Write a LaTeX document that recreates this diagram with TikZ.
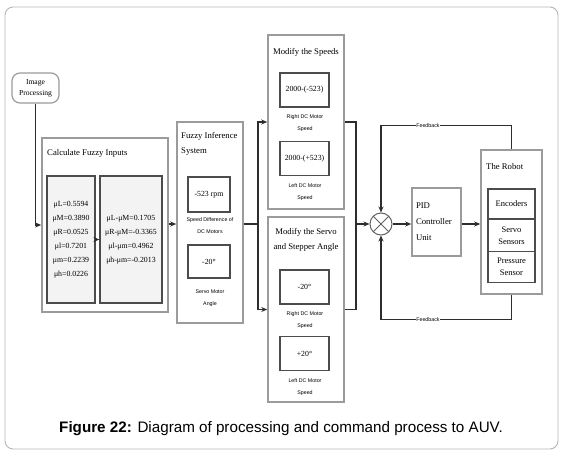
\documentclass[tikz,border=0pt]{standalone}
\usepackage{fontspec}
\setmainfont{Liberation Serif}
\setsansfont{Liberation Sans}
\usetikzlibrary{
    arrows.meta,
    positioning,
    calc
}
\definecolor{framegray}{RGB}{180,180,180}
\definecolor{boxgray}{RGB}{155,155,155}
\definecolor{linedark}{RGB}{45,45,45}
\definecolor{innerfill}{RGB}{243,243,243}

\begin{document}
\begin{tikzpicture}[x=1pt, y=-1pt,
    block/.style={draw=boxgray, line width=1.6pt, fill=white, inner sep=0pt},
    inbox/.style={draw=linedark!85, line width=1.3pt, fill=white, inner sep=0pt, font=\fontsize{7.8}{14}\selectfont},
    tag/.style={font=\sffamily\fontsize{5.3}{12}\selectfont, align=center, inner sep=0pt},
    heading/.style={font=\fontsize{8.7}{15.5}\selectfont, inner sep=0pt},
    wire/.style={draw=linedark, line width=1.3pt},
    flow/.style={wire, -{Stealth[length=6pt, width=5pt]}}
]
    \useasboundingbox (0,0) rectangle (562,455);

    % Outer frame
    \draw[framegray, line width=0.9pt, rounded corners=8pt] (5,7) rectangle (558,449);

    % Image processing input
    \node[block, line width=1.2pt, rounded corners=8pt, minimum width=47pt, minimum height=30pt, align=center, font=\fontsize{7.6}{11}\selectfont] (imgproc) at (35.5,88) {Image\\Processing};

    % Calculate fuzzy inputs
    \node[block, minimum width=126pt, minimum height=174pt] (calc) at (105,225) {};
    \node[heading, anchor=west] (calctitle) at (47,153) {Calculate Fuzzy Inputs};
    \node[inbox, fill=innerfill, minimum width=48pt, minimum height=127pt, align=center] (muleft) at (71,239.5)
        {μL=0.5594\\μM=0.3890\\μR=0.0525\\μl=0.7201\\μm=0.2239\\μh=0.0226};
    \node[inbox, fill=innerfill, minimum width=62pt, minimum height=127pt, align=center] (muright) at (131,239.5)
        {μL-μM=0.1705\\μR-μM=-0.3365\\μl-μm=0.4962\\μh-μm=-0.2013};

    % Fuzzy inference system
    \node[block, minimum width=66pt, minimum height=201pt] (fis) at (210,222.5) {};
    \node[heading, anchor=north west, align=left] (fistitle) at (181,132) {Fuzzy Inference\\System};
    \node[inbox, minimum width=42pt, minimum height=35pt] (rpm) at (209,194.5) {-523 rpm};
    \node[tag] (rpmtag) at (210,226) {Speed Difference of\\DC Motors};
    \node[inbox, minimum width=42pt, minimum height=33pt] (servoang) at (209,261.5) {-20°};
    \node[tag] (servotag) at (210,298.5) {Servo Motor\\Angle};

    % Command blocks
    \node[block, minimum width=76pt, minimum height=174pt] (speeds) at (306,122) {};
    \node[heading, align=center] (speedstitle) at (306,52) {Modify the Speeds};
    \node[block, minimum width=76pt, minimum height=185pt] (angle) at (306,309.5) {};
    \node[heading, align=center] (angletitle) at (306,240) {Modify the Servo\\and Stepper Angle};
    \foreach \nm/\y/\val/\side in {rsp/90/2000-(-523)/Right, lsp/158.5/2000-(+523)/Left, rang/287/-20°/Right, lang/353.5/+20°/Left} {
        \node[inbox, minimum width=49pt, minimum height=34pt] (\nm) at (304.5,\y) {\val};
        \node[tag] (\nm tag) at (305,\y+33.5) {\side\ DC Motor\\Speed};
    }

    % Summing point, controller and robot
    \node[circle, draw=linedark!75, line width=1pt, minimum size=22pt, inner sep=0pt,
        path picture={\draw[linedark!75, line width=0.8pt]
            (path picture bounding box.north west) -- (path picture bounding box.south east)
            (path picture bounding box.north east) -- (path picture bounding box.south west);}] (sum) at (381,224) {};
    \node[block, minimum width=49pt, minimum height=68pt, text width=41pt, align=left, font=\fontsize{8.7}{16}\selectfont] (pid) at (436.5,222) {PID\\Controller\\Unit};
    \node[block, minimum width=61pt, minimum height=144pt] (robot) at (511.5,222) {};
    \node[heading, anchor=west] (robottitle) at (486,167) {The Robot};
    \node[inbox, minimum width=47pt, minimum height=30pt, font=\fontsize{8.5}{12}\selectfont] (enc) at (511.5,204) {Encoders};
    \node[inbox, minimum width=47pt, minimum height=33pt, align=center, font=\fontsize{8.5}{12}\selectfont] (servosens) at (511.5,235.5) {Servo\\Sensors};
    \node[inbox, minimum width=47pt, minimum height=31pt, align=center, font=\fontsize{8.5}{12}\selectfont] (press) at (511.5,267) {Pressure\\Sensor};

    % Connections
    \draw[flow] (imgproc.south) |- (calc.west);
    \draw[flow] (muleft.east) -- (muright.west);
    \draw[flow] (calc.east |- 0,224) -- (fis.west |- 0,224);
    \coordinate (bus) at (258,224);
    \draw[wire] (fis.east |- bus) -- (bus);
    \draw[flow] (bus) |- (speeds.west);
    \draw[flow] (bus) |- (angle.west);
    \coordinate (merge) at (356,224);
    \draw[wire] (speeds.east) -| (merge);
    \draw[wire] (angle.east) -| (merge);
    \draw[flow] (merge) -- (sum.west);
    \draw[flow] (sum.east) -- (sum.east -| pid.west);
    \draw[flow] (sum -| pid.east) -- (sum -| robot.west);

    % Feedback loops
    \draw[flow] (robot.north) -- ++(0,-24) -| node[pos=0.32, tag, fill=white, inner sep=0.4pt] (fbtop) {Feedback} (sum.north);
    \draw[flow] (robot.south) -- ++(0,25) -| node[pos=0.32, tag, fill=white, inner sep=0.4pt] (fbbottom) {Feedback} (sum.south);

    % Caption
    \node[font=\sffamily\fontsize{15.2}{17}\selectfont] (caption) at (281,429) {\textbf{Figure 22:} Diagram of processing and command process to AUV.};
\end{tikzpicture}
\end{document}
